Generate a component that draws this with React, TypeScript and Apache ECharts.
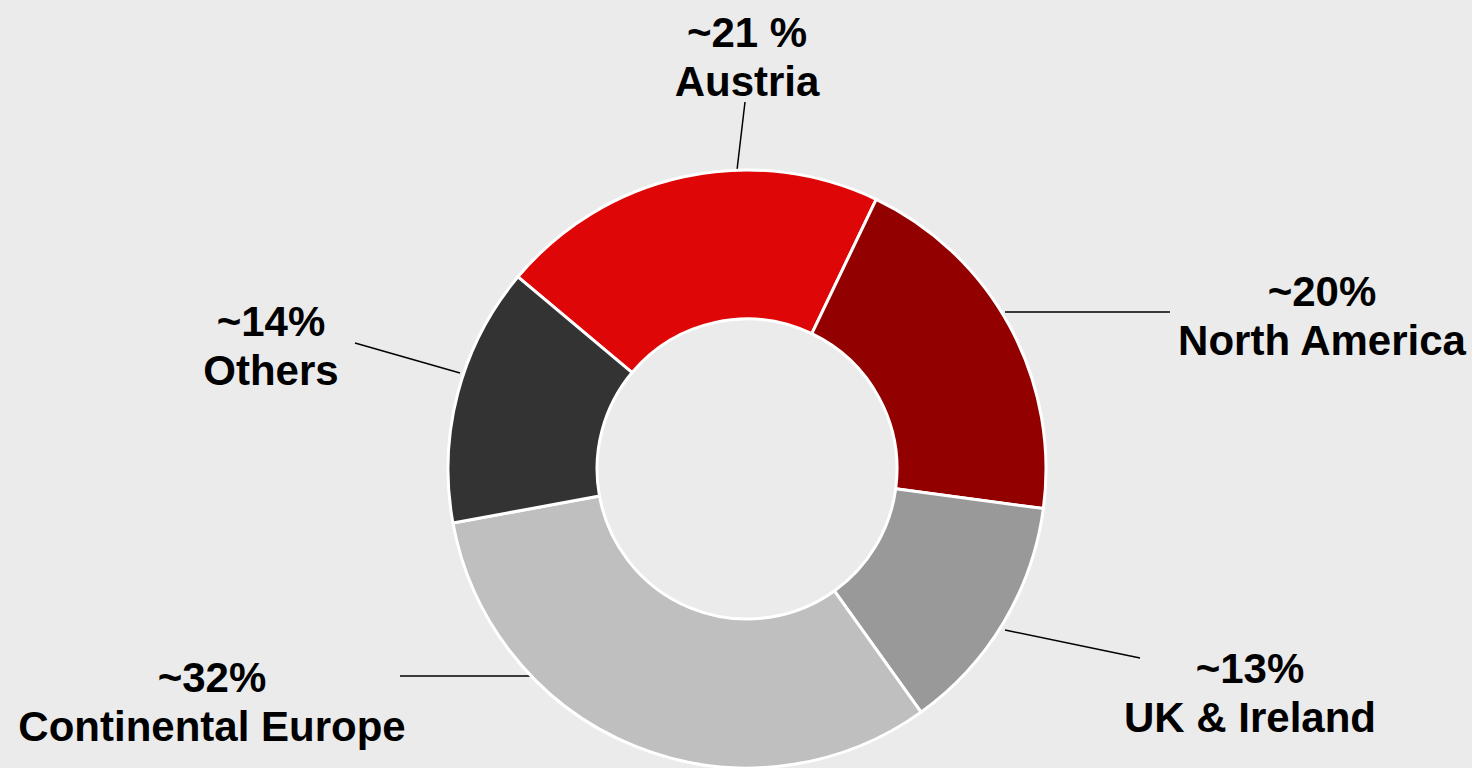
import React, { useEffect, useRef } from "react";
import * as echarts from "echarts";

const regions = ["Austria", "North America", "UK & Ireland", "Continental Europe", "Others"];
const shares = [21, 20, 13, 32, 14];
const shareLabels = ["~21 %", "~20%", "~13%", "~32%", "~14%"];
const sliceColors = ["#DE0606", "#930000", "#999999", "#BFBFBF", "#333333"];

// label placement (annotation positions, not data)
const labelPos = [
  { x: 747, y: 57, line: [[737, 170], [745, 102]] },
  { x: 1322, y: 316, line: [[1005, 312], [1170, 312]] },
  { x: 1250, y: 693, line: [[1005, 630], [1140, 658]] },
  { x: 212, y: 702, line: [[537, 676], [400, 676]] },
  { x: 271, y: 346, line: [[460, 373], [355, 343]] },
];

export default function App() {
  const ref = useRef<HTMLDivElement>(null);
  useEffect(() => {
    if (!ref.current) return;
    const chart = echarts.init(ref.current, null, { renderer: "svg" });
    chart.setOption({
      animation: false,
      backgroundColor: "#EBEBEB",
      series: [
        {
          type: "pie",
          center: [747, 469],
          radius: [150, 299],
          startAngle: 140,
          clockwise: true,
          avoidLabelOverlap: false,
          itemStyle: { borderColor: "#FFFFFF", borderWidth: 3 },
          label: {
            show: true,
            position: "outside",
            formatter: (p: any) => shareLabels[p.dataIndex] + "\n" + p.name,
            fontFamily: "Liberation Sans, Arial, sans-serif",
            fontWeight: "bold",
            fontSize: 42,
            lineHeight: 49,
            color: "#000000",
            align: "center",
          },
          labelLine: {
            show: true,
            lineStyle: { color: "#000000", width: 1.5 },
          },
          labelLayout: (params: any) => {
            const p = labelPos[params.dataIndex];
            return {
              x: p.x,
              y: p.y,
              align: "center",
              verticalAlign: "middle",
              labelLinePoints: p.line,
            };
          },
          data: regions.map((name, i) => ({
            name,
            value: shares[i],
            itemStyle: { color: sliceColors[i] },
          })),
        },
      ],
    });
    return () => chart.dispose();
  }, []);
  return (
    <div
      ref={ref}
      style={{ position: "fixed", left: 0, top: 0, width: 1472, height: 768 }}
    />
  );
}
